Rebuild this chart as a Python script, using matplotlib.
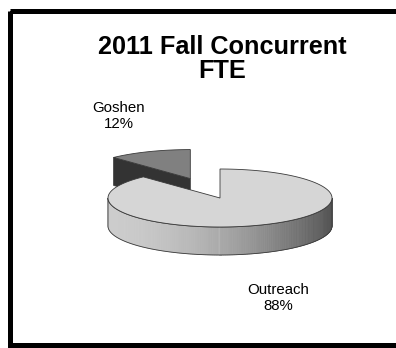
import numpy as np
import matplotlib
matplotlib.use("Agg")
import matplotlib.pyplot as plt
from matplotlib.patches import Polygon, Rectangle

plt.rcParams["font.family"] = ["Liberation Sans", "DejaVu Sans"]

title = "2011 Fall Concurrent\nFTE"
labels = ["Goshen", "Outreach"]
shares = [12, 88]
explode = [0.72, 0.0]
top_colors = ["#808080", "#d6d6d6"]
cut_colors = ["#333333", "#9a9a9a"]

W, H = 396, 348
fig = plt.figure(figsize=(W / 100, H / 100), dpi=100)
ax = fig.add_axes([0, 0, 1, 1])
ax.set_xlim(0, W)
ax.set_ylim(H, 0)
ax.axis("off")

# frame round the chart area
ax.add_patch(Rectangle((9.5, 10.5), 395, 334, fill=False, lw=5 * 72 / 100,
                       ec="black", zorder=10))

ax.text(222, 59, title, ha="center", va="center", fontsize=18.2,
        fontweight="bold", linespacing=0.98)

# 3D pie geometry (pixel units)
cx, cy = 220, 198
a, b, depth = 112, 29, 28
edge = "#3a3a3a"
lw = 0.6


def rim(theta, ox=0.0, oy=0.0, dz=0.0):
    t = np.radians(theta)
    return np.column_stack([cx + ox + a * np.cos(t), cy + oy - b * np.sin(t) + dz])


def wall_shade(x):
    t = np.clip((x - (cx - a)) / (2 * a), 0, 1)
    return 0.80 - 0.47 * t ** 1.8


start = 90.0
total = float(sum(shares))
slices = []
ang = start
for lab, v, ex in zip(labels, shares, explode):
    sweep = 360.0 * v / total
    t0, t1 = ang, ang + sweep
    mid = np.radians((t0 + t1) / 2)
    ox, oy = ex * a * np.cos(mid), -ex * b * np.sin(mid)
    slices.append((lab, v, t0, t1, ox, oy))
    ang = t1

# draw exploded (back) slice first, then the main body
order = sorted(range(len(slices)), key=lambda i: -explode[i])
for i in order:
    lab, v, t0, t1, ox, oy = slices[i]
    apex = np.array([cx + ox, cy + oy])
    # radial cut face at the end angle (faces the viewer when on the left)
    e_top = rim([t1], ox, oy)[0]
    e_bot = rim([t1], ox, oy, depth)[0]
    if np.cos(np.radians(t1 + 90)) < 0 or np.sin(np.radians(t1 + 90)) < 0:
        face = [apex, e_top, e_bot, apex + [0, depth]]
        ax.add_patch(Polygon(face, closed=True, fc=cut_colors[i], ec=edge, lw=lw))
    # outer wall on the front half
    lo, hi = max(t0, 180.0), min(t1, 360.0)
    if hi > lo:
        th = np.linspace(lo, hi, 160)
        top = rim(th, ox, oy)
        bot = rim(th, ox, oy, depth)
        for k in range(len(th) - 1):
            quad = [top[k], top[k + 1], bot[k + 1], bot[k]]
            g = wall_shade((top[k, 0] + top[k + 1, 0]) / 2)
            ax.add_patch(Polygon(quad, closed=True, fc=(g, g, g), ec=(g, g, g), lw=0.5))
        outline = np.vstack([top, bot[::-1]])
        ax.add_patch(Polygon(outline, closed=True, fill=False, ec=edge, lw=lw))
    # top face
    th = np.linspace(t0, t1, 240)
    face = np.vstack([apex, rim(th, ox, oy)])
    ax.add_patch(Polygon(face, closed=True, fc=top_colors[i], ec=edge, lw=lw))

# data labels
label_pos = [(119, 116), (278, 298)]
for (lab, v, *_), (lx, ly) in zip(slices, label_pos):
    ax.text(lx, ly, f"{lab}\n{v}%", ha="center", va="center", fontsize=10.8,
            linespacing=1.15)

fig.savefig("out.png", dpi=100)
